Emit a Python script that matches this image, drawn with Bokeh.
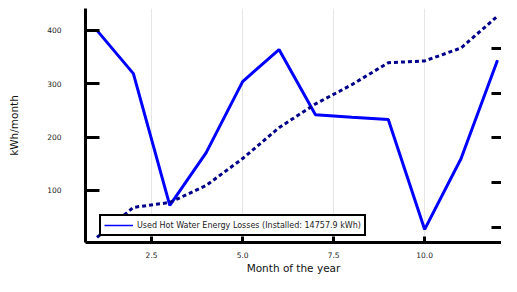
from bokeh.plotting import figure
from bokeh.models import (Range1d, LinearAxis, FixedTicker, Legend, LegendItem,
                          CustomJSTickFormatter, PrintfTickFormatter)
from bokeh.embed import file_html
from bokeh.resources import INLINE

# Data
months = [1, 2, 3, 4, 5, 6, 7, 8, 9, 10, 11, 12]
losses_kwh = [400, 319, 72, 171, 304, 364, 242, 237, 233, 27, 160, 344]
secondary = [78, 145, 156, 194, 254, 323, 376, 419, 468, 472, 501, 572]
x_ticks = [2.5, 5.0, 7.5, 10.0]
y_ticks = [100, 200, 300, 400]
right_ticks = [100, 200, 300, 400, 500]
legend_label = "Used Hot Water Energy Losses (Installed: 14757.9 kWh)"

FONT = "DejaVu Sans"

p = figure(width=501, height=276, output_backend="svg", toolbar_location=None,
           title_location=None,
           x_range=Range1d(0.685, 12.11), y_range=Range1d(2.5, 441),
           min_border=0, min_border_left=85, min_border_right=0,
           min_border_top=8, min_border_bottom=34)
p.outline_line_color = None
p.background_fill_color = "white"
p.border_fill_color = "white"

p.extra_y_ranges = {"right": Range1d(66.6, 589.1)}

# Lines
legend_line = p.line(months, losses_kwh, line_color="#0000FF", line_width=1.5)
solid = p.line(months, losses_kwh, line_color="#0000FF", line_width=3)
p.line(months, secondary, line_color="#00008B", line_width=3, line_dash="4 3",
       y_range_name="right")

# Axes styling
xa = p.xaxis[0]
xa.ticker = FixedTicker(ticks=x_ticks)
xa.formatter = PrintfTickFormatter(format="%.1f")
xa.axis_label = "Month of the year"
ya = p.yaxis[0]
ya.ticker = FixedTicker(ticks=y_ticks)
ya.axis_label = "kWh/month"

for ax in (xa, ya):
    ax.axis_line_width = 3
    ax.axis_line_color = "black"
    ax.major_tick_line_width = 3
    ax.major_tick_line_color = "black"
    ax.major_tick_out = 0
    ax.minor_tick_line_color = None
    ax.major_label_text_font = FONT
    ax.major_label_text_font_size = "7.5px"
    ax.major_label_text_color = "#222222"
    ax.axis_label_text_font = FONT
    ax.axis_label_text_font_size = "10.5px"
    ax.axis_label_text_font_style = "normal"
    ax.axis_label_text_color = "#111111"

xa.major_tick_in = 6
xa.major_label_standoff = 9
xa.axis_label_standoff = 1
ya.major_tick_in = 14
ya.major_label_standoff = 24
ya.axis_label_standoff = 24

ra = LinearAxis(y_range_name="right", ticker=FixedTicker(ticks=right_ticks),
                formatter=CustomJSTickFormatter(code="return ''"))
ra.axis_line_color = None
ra.major_tick_in = 10
ra.major_tick_out = 0
ra.major_tick_line_width = 3
ra.major_tick_line_color = "black"
ra.minor_tick_line_color = None
ra.major_label_standoff = 0
ra.major_label_text_font_size = "0px"
ra.axis_label_standoff = 0
p.add_layout(ra, "right")

# Grid
p.xgrid.ticker = FixedTicker(ticks=x_ticks)
p.xgrid.grid_line_color = "#e6e6e6"
p.xgrid.grid_line_width = 1
p.ygrid.grid_line_color = None

# Legend
legend = Legend(items=[LegendItem(label=legend_label, renderers=[legend_line])],
                location=(14, 6))
legend.border_line_color = "black"
legend.border_line_alpha = 1.0
legend.border_line_width = 2
legend.label_text_font = FONT
legend.label_text_font_size = "8px"
legend.label_text_color = "#222222"
legend.glyph_width = 29
legend.glyph_height = 12
legend.label_height = 12
legend.label_standoff = 4
legend.padding = 3
legend.spacing = 0
legend.margin = 0
legend.background_fill_color = "white"
legend.background_fill_alpha = 1
p.add_layout(legend, "center")

open("out.html", "w").write(file_html(p, INLINE))
